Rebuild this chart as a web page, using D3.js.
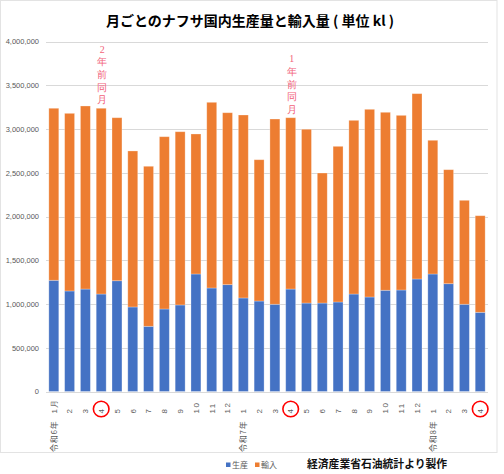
<!DOCTYPE html>
<html>
<head>
<meta charset="utf-8">
<script src="https://cdn.jsdelivr.net/npm/d3@7"></script>
<style>
  body { margin: 0; background: #fff; }
  svg { display: block; font-family: "Noto Sans CJK JP", "Noto Sans", sans-serif; }
</style>
</head>
<body>
<script>
// monthly naphtha: domestic production + imports (kl), stacked bars
const monthLabels = ["1月","2","3","4","5","6","7","8","9","10","11","12",
                     "1","2","3","4","5","6","7","8","9","10","11","12",
                     "1","2","3","4"];
const yearLabels = ["令和6年", "令和7年", "令和8年"];
const yearStartIdx = [0, 12, 24];

const production = [1271000,1149000,1171000,1114000,1266000,966000,745000,943000,989000,1343000,1183000,1221000,
                    1069000,1034000,997000,1171000,1011000,1011000,1023000,1114000,1080000,1157000,1160000,1286000,
                    1343000,1232000,997000,905000];
const imports = [1966000,2030000,2092000,2123000,1863000,1783000,1829000,1969000,1980000,1600000,2122000,1965000,
                 2091000,1615000,2117000,1958000,1986000,1486000,1779000,1985000,2145000,2034000,1996000,2118000,
                 1528000,1303000,1188000,1104000];

const seriesNames = ["生産", "輸入"];
const seriesColors = ["#4472C4", "#ED7D31"];
const yTicks = [0,500000,1000000,1500000,2000000,2500000,3000000,3500000,4000000];

const circled = [3, 15, 27];
const notes = [{ text: "2年前同月", idx: 3 }, { text: "1年前同月", idx: 15 }];

const W = 504, H = 474;

const rows = monthLabels.map((m, i) => ({ idx: i, 生産: production[i], 輸入: imports[i] }));

const svg = d3.select("body").append("svg")
  .attr("width", W)
  .attr("height", H);

// outer frame (faint)
svg.append("rect")
  .attr("x", 0.5).attr("y", 0.5)
  .attr("width", 496.5).attr("height", 452)
  .attr("fill", "none")
  .attr("stroke", "#e3e3e3");

const x = d3.scaleBand()
  .domain(rows.map(d => d.idx))
  .range([46, 488])
  .paddingInner(0.37)
  .paddingOuter(0.18);

const y = d3.scaleLinear()
  .domain([0, 4000000])
  .range([391.5, 41.5]);

// title
svg.append("text")
  .attr("x", 250)
  .attr("y", 26)
  .attr("text-anchor", "middle")
  .attr("font-size", 14)
  .attr("font-weight", "bold")
  .attr("fill", "#000")
  .text("月ごとのナフサ国内生産量と輸入量 ( 単位 kl )");

// gridlines
svg.append("g")
  .selectAll("line")
  .data(yTicks)
  .join("line")
  .attr("x1", 46).attr("x2", 488)
  .attr("y1", d => Math.round(y(d)) + 0.5)
  .attr("y2", d => Math.round(y(d)) + 0.5)
  .attr("stroke", "#d9d9d9")
  .attr("stroke-width", 1);

// y axis labels
const yAxis = svg.append("g")
  .attr("transform", "translate(39,0)")
  .call(d3.axisLeft(y).tickValues(yTicks).tickSize(0).tickPadding(0)
    .tickFormat(d3.format(",")));
yAxis.select(".domain").remove();
yAxis.selectAll("text")
  .attr("font-size", 7.5)
  .attr("fill", "#595959")
  .attr("font-family", "Liberation Sans, Arial, sans-serif");

// stacked bars
const stack = d3.stack().keys(seriesNames);
const layers = stack(rows);

svg.append("g")
  .selectAll("g")
  .data(layers)
  .join("g")
  .attr("fill", (d, i) => seriesColors[i])
  .selectAll("rect")
  .data(d => d)
  .join("rect")
  .attr("x", d => x(d.data.idx))
  .attr("width", x.bandwidth())
  .attr("y", d => y(d[1]))
  .attr("height", d => y(d[0]) - y(d[1]))
  .attr("stroke", "#ffffff")
  .attr("stroke-opacity", 0.35)
  .attr("stroke-width", 0.8);

// x axis: month labels, rotated
const xAxis = svg.append("g")
  .attr("transform", "translate(0,391.5)")
  .call(d3.axisBottom(x).tickSize(0).tickPadding(0)
    .tickFormat(i => monthLabels[i]));
xAxis.select(".domain").remove();
xAxis.selectAll("text")
  .attr("transform", "translate(0,22) rotate(-90)")
  .attr("text-anchor", "start")
  .attr("dy", "0.35em")
  .attr("x", 0).attr("y", 0)
  .attr("font-size", 8)
  .attr("letter-spacing", 1.5)
  .attr("fill", "#595959");

// year labels under first month of each year
svg.append("g")
  .selectAll("text")
  .data(yearLabels)
  .join("text")
  .attr("transform", (d, i) =>
    `translate(${x(yearStartIdx[i]) + x.bandwidth() / 2},452) rotate(-90)`)
  .attr("dy", "0.35em")
  .attr("text-anchor", "start")
  .attr("font-size", 8)
  .attr("letter-spacing", 0.8)
  .attr("fill", "#595959")
  .text(d => d);

// red circles around the "4" ticks
svg.append("g")
  .selectAll("circle")
  .data(circled)
  .join("circle")
  .attr("cx", d => x(d) + x.bandwidth() / 2)
  .attr("cy", 409)
  .attr("r", 7.8)
  .attr("fill", "none")
  .attr("stroke", "#ff0000")
  .attr("stroke-width", 1.6);

// vertical pink notes above the compared bars
const noteG = svg.append("g")
  .attr("font-family", "Liberation Serif, serif")
  .attr("font-size", 10)
  .attr("fill", "#f2627a")
  .attr("text-anchor", "middle");

notes.forEach(n => {
  const chars = Array.from(n.text);
  const top = y(production[n.idx] + imports[n.idx]) - 5;
  const cx = x(n.idx) + x.bandwidth() / 2 + 1;
  noteG.selectAll(null)
    .data(chars)
    .join("text")
    .attr("x", cx)
    .attr("y", (c, j) => top - (chars.length - 1 - j) * 12.6)
    .text(c => c);
});

// legend
const legend = svg.append("g")
  .attr("transform", "translate(226,465)");
const legItems = legend.selectAll("g")
  .data(seriesNames)
  .join("g")
  .attr("transform", (d, i) => `translate(${i * 29},0)`);
legItems.append("rect")
  .attr("x", 0).attr("y", -2.5)
  .attr("width", 4.5).attr("height", 4.5)
  .attr("fill", (d, i) => seriesColors[i]);
legItems.append("text")
  .attr("x", 6)
  .attr("dy", "0.35em")
  .attr("font-size", 8)
  .attr("fill", "#595959")
  .text(d => d);

// source note
svg.append("text")
  .attr("x", 307)
  .attr("y", 468)
  .attr("font-size", 10.8)
  .attr("font-weight", "bold")
  .attr("fill", "#111")
  .text("経済産業省石油統計より製作");
</script>
</body>
</html>
